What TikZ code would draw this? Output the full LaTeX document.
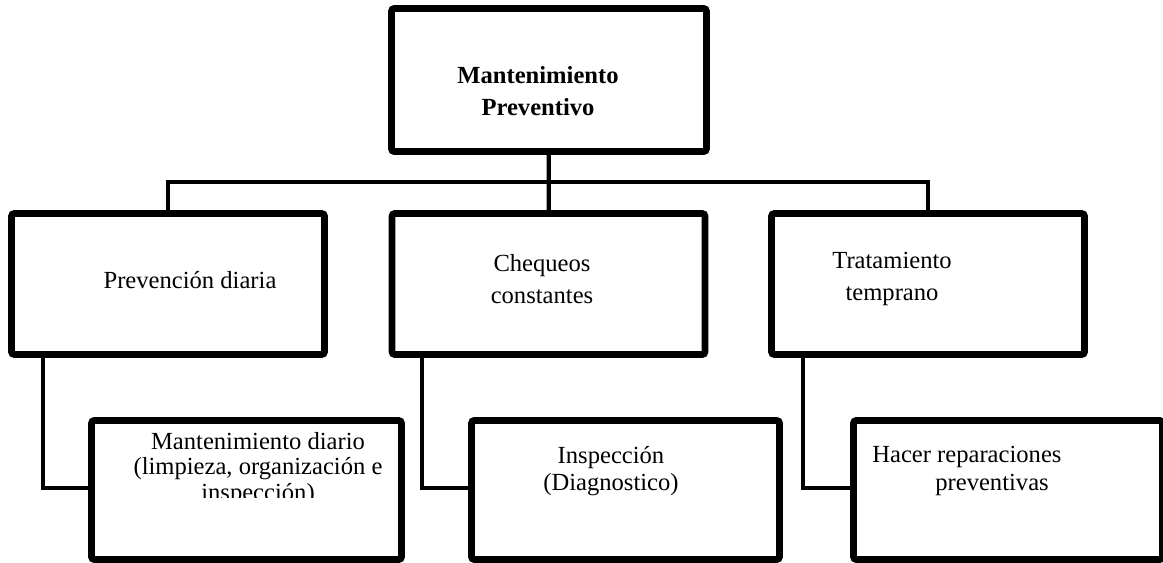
\documentclass[tikz,border=0pt]{standalone}
\usepackage{fontspec}
\setmainfont{Liberation Serif}
\usetikzlibrary{calc}
\usetikzlibrary{shadows}

\begin{document}
\begin{tikzpicture}[x=0.02cm,y=-0.02cm,
  box/.style={draw=black,line width=3.8pt,rounded corners=1.5pt,fill=white,
    drop shadow={opacity=0.3,shadow xshift=0.8pt,shadow yshift=-0.8pt}},
  conn/.style={black,line width=2.4pt},
  lbl/.style={font=\fontsize{14}{18}\selectfont,align=center,inner sep=0pt}]
\useasboundingbox (0,0) rectangle (1163,562);
%% boxes
\node[box,minimum width=6.3cm,minimum height=2.86cm] (top) at (549,80) {};
\node[box,minimum width=6.26cm,minimum height=2.82cm] (prev) at (168,284) {};
\node[box,minimum width=6.26cm,minimum height=2.82cm] (chq) at (548.5,284) {};
\node[box,minimum width=6.26cm,minimum height=2.82cm] (trat) at (928,284) {};
\node[box,minimum width=6.2cm,minimum height=2.78cm] (mant) at (246.5,490) {};
\node[box,minimum width=6.16cm,minimum height=2.78cm] (insp) at (625.5,490) {};
\node[box,minimum width=6.18cm,minimum height=2.78cm] (hacer) at (1008,490) {};
%% connectors
\coordinate (bus) at (548.5,182);
\draw[conn] (prev.north) |- (bus) -| (trat.north);
\draw[conn] (top) -- (chq);
\foreach \p/\c/\dx in {prev/mant/35, chq/insp/33, trat/hacer/35}
    \draw[conn] ($(\p.south west)+(\dx,0)$) |- ($(\c.west)+(0,-2)$);
%% texts
\node[lbl,font=\fontsize{14}{18}\selectfont\bfseries] (toptxt) at (538,91) {Mantenimiento\\Preventivo};
\node[lbl] (prevtxt) at (190,280) {Prevención diaria};
\node[lbl] (chqtxt) at (542,279) {Chequeos\\constantes};
\node[lbl] (trattxt) at (892,279) {Tratamiento\\temprano};
\begin{scope}
  \clip (88,417) rectangle (405,497);
  \node[lbl,font=\fontsize{14}{14.5}\selectfont] (manttxt) at (258,469) {Mantenimiento diario\\(limpieza, organización e\\inspección)};
\end{scope}
\node[lbl,font=\fontsize{14}{15.5}\selectfont] (insptxt) at (611,471) {Inspección\\(Diagnostico)};
\node[lbl,font=\fontsize{14}{15.5}\selectfont,align=left,anchor=west] (hacertxt) at (872,471) {Hacer reparaciones\\\hspace*{1.26cm}preventivas};
\end{tikzpicture}
\end{document}
